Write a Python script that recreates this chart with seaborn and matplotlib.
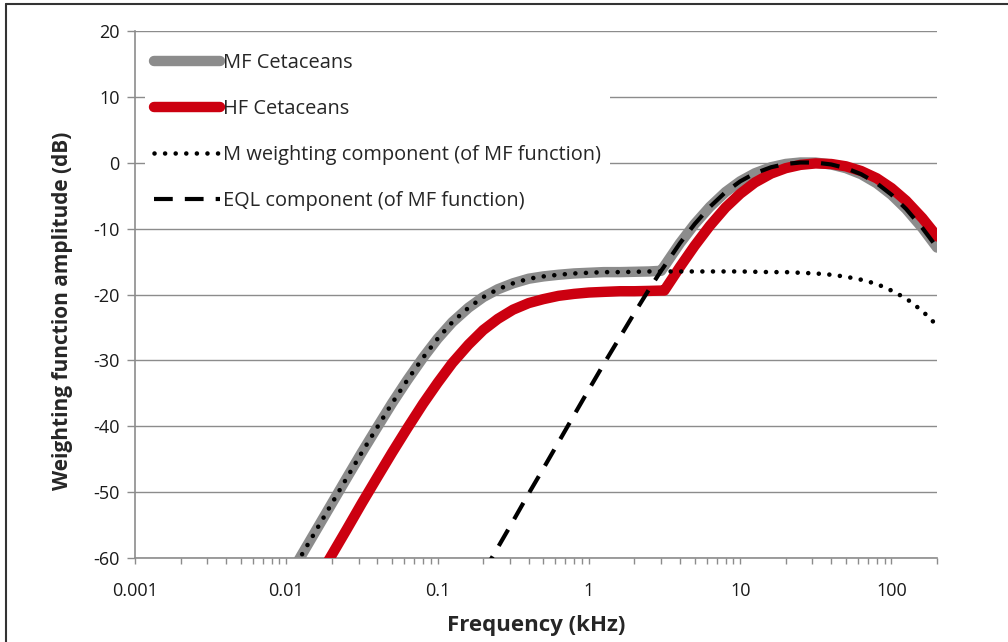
import matplotlib
matplotlib.use("Agg")
import matplotlib.pyplot as plt
import seaborn as sns
from matplotlib.lines import Line2D
from matplotlib.ticker import LogLocator, NullFormatter

# Frequencies (kHz) at which the curves were read
freq_khz = [0.01, 0.0125, 0.016, 0.02, 0.025, 0.0315, 0.04, 0.05, 0.063, 0.08,
            0.1, 0.125, 0.16, 0.2, 0.25, 0.315, 0.4, 0.5, 0.63, 0.8,
            1, 1.25, 1.6, 2, 2.5, 3.0, 3.15, 4, 5, 6.3, 8,
            10, 12.5, 16, 20, 25, 31.5, 40, 50, 63, 80,
            100, 125, 160, 200]

# MF cetaceans weighting (dB)
mf_db = [-63.6, -59.7, -55.5, -51.7, -47.9, -44.0, -40.1, -36.5, -33.0, -29.6,
         -26.7, -24.2, -22.0, -20.4, -19.2, -18.3, -17.6, -17.25, -17.0, -16.8,
         -16.7, -16.6, -16.6, -16.55, -16.5, -16.4, -15.7, -12.2, -9.3, -6.7, -4.45,
         -2.82, -1.6, -0.68, -0.18, 0.04, 0.03, -0.26, -0.82, -1.73, -3.12,
         -4.85, -7.02, -9.9, -12.87]

# HF cetaceans weighting (dB)
hf_db = [-71.5, -67.6, -63.3, -59.5, -55.7, -51.7, -47.7, -44.0, -40.3, -36.6,
         -33.4, -30.4, -27.6, -25.4, -23.7, -22.3, -21.3, -20.7, -20.2, -19.9,
         -19.7, -19.6, -19.5, -19.5, -19.45, -19.4, -19.4, -15.8, -12.6, -9.56, -6.8,
         -4.7, -3.0, -1.64, -0.82, -0.32, -0.1, -0.19, -0.54, -1.25, -2.36,
         -3.85, -5.77, -8.4, -11.18]

# M weighting component of MF function (dB)
m_weight_db = [-63.6, -59.7, -55.5, -51.7, -47.9, -44.0, -40.1, -36.5, -33.0, -29.6,
               -26.7, -24.2, -22.0, -20.4, -19.2, -18.3, -17.6, -17.25, -17.0, -16.8,
               -16.7, -16.6, -16.6, -16.55, -16.5, -16.5, -16.5, -16.5, -16.5, -16.5, -16.5,
               -16.5, -16.55, -16.6, -16.6, -16.7, -16.8, -17.0, -17.3, -17.75, -18.4,
               -19.4, -20.6, -22.5, -24.7]

# EQL component of MF function (dB), read from 0.2 kHz upward
eql_freq_khz = [0.2, 0.25, 0.315, 0.4, 0.5, 0.63, 0.8,
                1, 1.25, 1.6, 2, 2.5, 3.0, 3.15, 4, 5, 6.3, 8,
                10, 12.5, 16, 20, 25, 31.5, 40, 50, 63, 80,
                100, 125, 160, 200]
eql_db = [-62.2, -58.4, -54.4, -50.2, -46.4, -42.4, -38.25,
          -34.4, -30.6, -26.5, -22.8, -19.2, -16.4, -15.7, -12.2, -9.3, -6.7, -4.45,
          -2.82, -1.6, -0.68, -0.18, 0.04, 0.03, -0.26, -0.82, -1.73, -3.12,
          -4.85, -7.02, -9.9, -12.87]

y_ticks = [20, 10, 0, -10, -20, -30, -40, -50, -60]
x_ticks = [0.001, 0.01, 0.1, 1, 10, 100]
x_tick_labels = ["0.001", "0.01", "0.1", "1", "10", "100"]

sns.set_theme(style="white")
plt.rcParams["font.family"] = ["Open Sans", "DejaVu Sans"]
plt.rcParams["axes.unicode_minus"] = False

grid_col = "#8c8c8c"
fig = plt.figure(figsize=(10.08, 6.42), dpi=100)
ax = fig.add_axes([0.134, 0.1308, 0.7956, 0.8209])

sns.lineplot(x=freq_khz, y=mf_db, ax=ax, color="#8c8c8c", lw=7.5,
             solid_capstyle="round", label="MF Cetaceans", zorder=3)
sns.lineplot(x=freq_khz, y=hf_db, ax=ax, color="#cc0010", lw=7.5,
             solid_capstyle="round", label="HF Cetaceans", zorder=4)
sns.lineplot(x=freq_khz, y=m_weight_db, ax=ax, color="black", lw=3.3,
             linestyle=(0, (0.01, 2.3)), dash_capstyle="round",
             label="M weighting component (of MF function)", zorder=5)
sns.lineplot(x=eql_freq_khz, y=eql_db, ax=ax, color="black", lw=3,
             linestyle=(0, (4.5, 2.9)), label="EQL component (of MF function)",
             zorder=6)

ax.set_xscale("log")
ax.set_xlim(0.001, 200)
ax.set_ylim(-60, 20)

ax.set_yticks(y_ticks)
ax.set_xticks(x_ticks)
ax.set_xticklabels(x_tick_labels)
ax.xaxis.set_minor_locator(LogLocator(base=10, subs=range(2, 10), numticks=20))
ax.xaxis.set_minor_formatter(NullFormatter())

ax.grid(axis="y", color=grid_col, lw=1)
ax.grid(axis="x", visible=False)
for s in ["top", "right"]:
    ax.spines[s].set_visible(False)
for s in ["left", "bottom"]:
    ax.spines[s].set_color(grid_col)
    ax.spines[s].set_linewidth(1.2)

ax.tick_params(axis="both", which="both", direction="out", color=grid_col,
               width=1, labelsize=13, labelcolor="#1a1a1a")
ax.tick_params(axis="y", left=True, length=6, pad=5)
ax.tick_params(axis="x", which="both", bottom=True, length=4, pad=13)

ax.set_xlabel("Frequency (kHz)", fontsize=16, fontweight="bold", labelpad=11)
ax.set_ylabel("Weighting function amplitude (dB)", fontsize=15,
              fontweight="bold")
ax.yaxis.set_label_coords(-0.078, 0.47)

leg = ax.legend(loc="upper left", bbox_to_anchor=(0.0, 0.995), fontsize=14.4,
                frameon=True, facecolor="white", edgecolor="none", framealpha=1,
                handlelength=3.3, handletextpad=0.15, labelspacing=1.3,
                borderpad=0.45, fancybox=False)
leg.set_zorder(10)

# figure border (top and left edges visible in the crop)
fig.add_artist(Line2D([0.006, 0.006], [0.0, 0.9945], transform=fig.transFigure,
                      color="#333333", lw=1.5))
fig.add_artist(Line2D([0.006, 1.0], [0.9945, 0.9945], transform=fig.transFigure,
                      color="#333333", lw=1.5))

fig.savefig("out.png", dpi=100)
